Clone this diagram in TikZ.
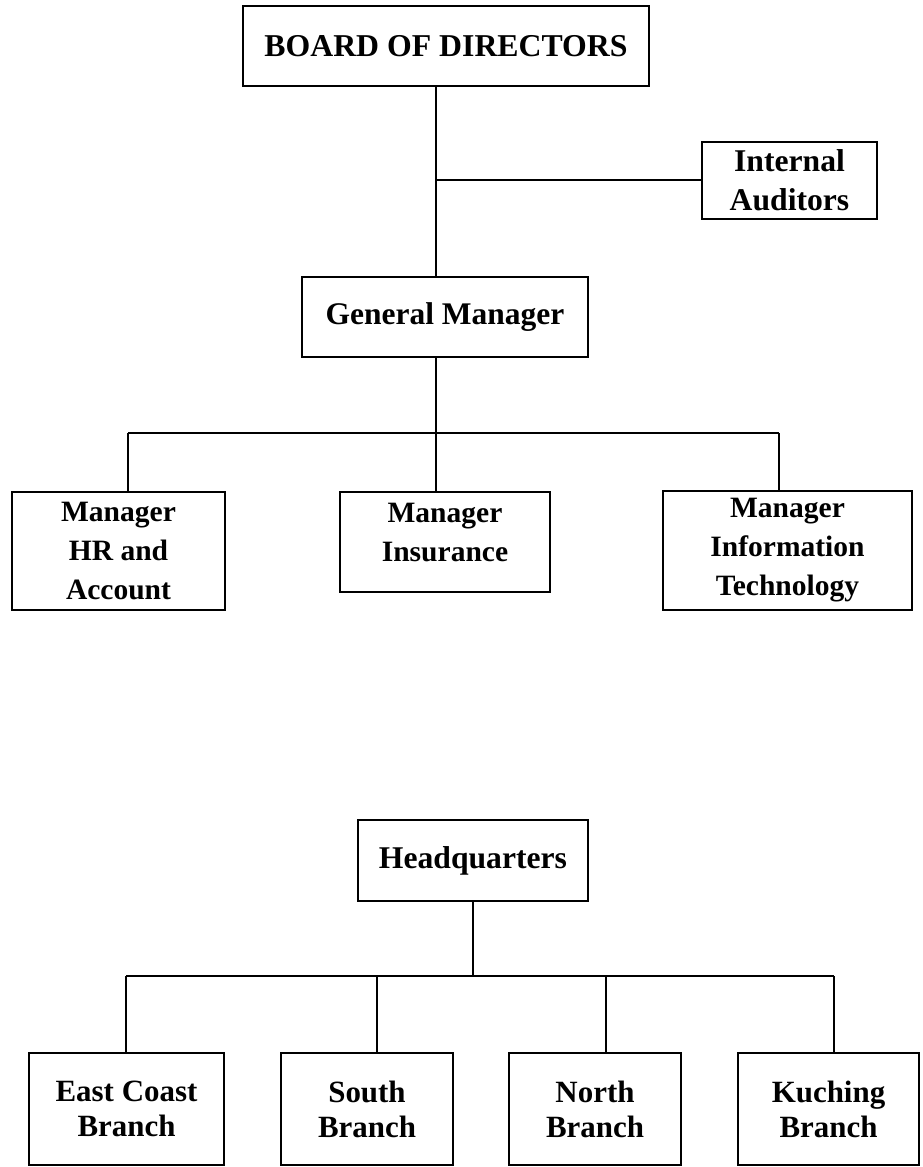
\documentclass[tikz,border=0pt]{standalone}
\usepackage{fontspec}
\setmainfont{Liberation Serif}
\usetikzlibrary{positioning, calc}
\tikzset{
  orgbox/.style={rectangle, draw=black, line width=1.5pt, align=center,
                 inner sep=2pt, font=\bfseries},
  bigtxt/.style={font=\fontsize{22.6}{27}\selectfont\bfseries},
  gmtxt/.style={font=\fontsize{22.4}{27}\selectfont\bfseries},
  midtxt/.style={font=\fontsize{22.5}{27.7}\selectfont\bfseries},
  smalltxt/.style={font=\fontsize{21}{27.7}\selectfont\bfseries},
  brtxt/.style={font=\fontsize{22}{25}\selectfont\bfseries},
  link/.style={line width=1.5pt, black},
}
\begin{document}
\begin{tikzpicture}[x=0.025cm, y=-0.025cm]
  \useasboundingbox (0,0) rectangle (923,1167);

  % Top chart
  \node[orgbox, bigtxt, minimum width=10.15cm, minimum height=2cm] (bod) at (446,46) {BOARD OF DIRECTORS};
  \node[orgbox, midtxt, minimum width=4.375cm, minimum height=1.925cm] (audit) at (789.5,180.5) {Internal\\Auditors};
  \node[orgbox, gmtxt, minimum width=7.15cm, minimum height=2cm] (gm) at (445,317) {General Manager};
  \node[orgbox, smalltxt, minimum width=5.325cm, minimum height=2.95cm] (mhr) at (118.5,551) {Manager\\HR and\\Account};
  \node[orgbox, smalltxt, minimum width=5.25cm, minimum height=2.5cm] (mins) at (445,542) {Manager\\Insurance\\[-13.7pt]\mbox{}};
  \node[orgbox, smalltxt, minimum width=6.225cm, minimum height=2.975cm] (mit) at (787.5,550.5) {Manager\\Information\\Technology};

  % Junctions
  \coordinate (jaud) at (436,180);
  \coordinate (jmgr) at (436,433);
  \coordinate (jhr) at (128,433);
  \coordinate (jit) at (779,433);

  \draw[link] (bod.south -| jaud) -- (gm.north -| jaud);
  \draw[link] (jaud) -- (audit.west |- jaud);
  \draw[link] (gm.south -| jmgr) -- (mins.north -| jmgr);
  \draw[link] (jhr) -- (jit);
  \draw[link] (jhr) -- (mhr.north -| jhr);
  \draw[link] (jit) -- (mit.north -| jit);

  % Bottom chart
  \node[orgbox, midtxt, minimum width=5.75cm, minimum height=2.025cm] (hq) at (473,860.5) {Headquarters};
  \node[orgbox, brtxt, minimum width=4.875cm, minimum height=2.8cm] (east) at (126.5,1109) {East Coast\\Branch};
  \node[orgbox, brtxt, minimum width=4.3cm, minimum height=2.8cm] (south) at (367,1109) {South\\Branch};
  \node[orgbox, brtxt, minimum width=4.3cm, minimum height=2.8cm] (north) at (595,1109) {North\\Branch};
  \node[orgbox, brtxt, minimum width=4.525cm, minimum height=2.8cm] (kuch) at (828.5,1109) {Kuching\\Branch};

  \coordinate (jhq) at (473,976);
  \coordinate (jeast) at (126,976);
  \coordinate (jsouth) at (377,976);
  \coordinate (jnorth) at (606,976);
  \coordinate (jkuch) at (834,976);

  \draw[link] (hq.south -| jhq) -- (jhq);
  \draw[link] (jeast) -- (jkuch);
  \draw[link] (jeast) -- (east.north -| jeast);
  \draw[link] (jsouth) -- (south.north -| jsouth);
  \draw[link] (jnorth) -- (north.north -| jnorth);
  \draw[link] (jkuch) -- (kuch.north -| jkuch);
\end{tikzpicture}
\end{document}
